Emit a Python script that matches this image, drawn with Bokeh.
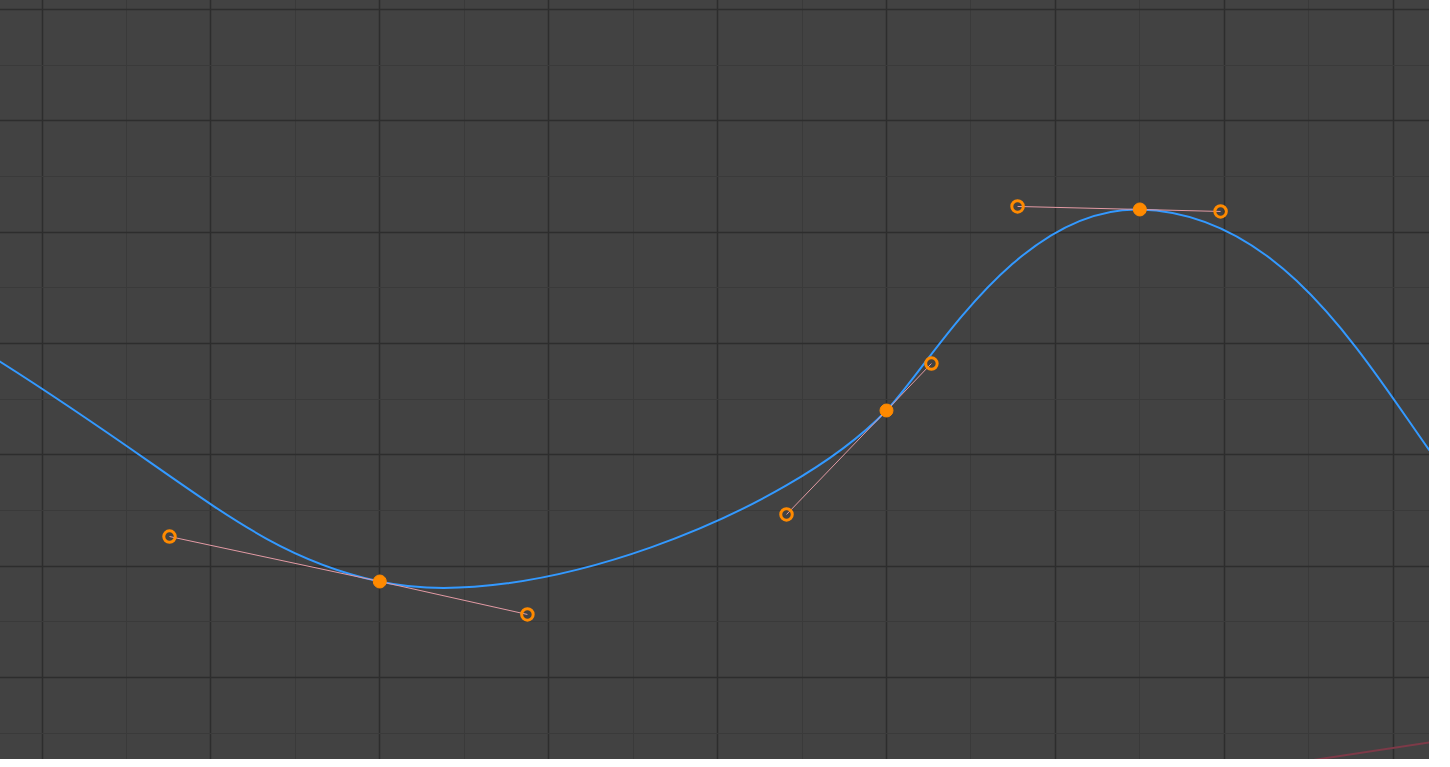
from bokeh.plotting import figure
from bokeh.models import Range1d, SingleIntervalTicker, Grid
from bokeh.embed import file_html
from bokeh.resources import INLINE

# keyframes (frame, value)
key_frames = [20.0, 50.0, 65.0]
key_values = [-2.138, -0.602, 1.204]
left_handle_frames = [7.55, 44.08, 57.76]
left_handle_values = [-1.734, -1.536, 1.231]
right_handle_frames = [28.74, 52.66, 69.78]
right_handle_values = [-2.434, -0.180, 1.186]

# visible parts of the segments that come from / go to keys outside the view
lead_in_frames = [-2.69, 9.15, 12.52]   # start, ctrl1, ctrl2 (ends at first key)
lead_in_values = [-0.144, -1.275, -1.895]
lead_out_frames = [73.13, 77.89, 82.15]  # ctrl1, ctrl2, end (starts at last key)
lead_out_values = [1.173, -0.045, -0.961]

# second (red) channel, barely visible at the bottom right
red_frames = [74.04, 82.15]
red_values = [-3.770, -3.584]

BG = "#424242"
p = figure(width=1433, height=765, output_backend="svg", toolbar_location=None,
           x_axis_location=None, y_axis_location=None,
           x_range=Range1d(-2.694, 82.15), y_range=Range1d(-3.737, 3.135),
           background_fill_color=BG, border_fill_color=BG, outline_line_color=None,
           min_border=0, margin=(-6, 0, -8, -4))
p.xgrid.visible = False
p.ygrid.visible = False
for dim, iv in ((0, 10), (1, 1)):
    g = Grid(dimension=dim, ticker=SingleIntervalTicker(interval=iv, num_minor_ticks=2),
             grid_line_color="#2d2d2d", grid_line_width=1.5,
             minor_grid_line_color="#3a3a3a", minor_grid_line_width=1)
    p.add_layout(g)

# curve segments
x0 = [lead_in_frames[0]] + key_frames
y0 = [lead_in_values[0]] + key_values
cx0 = [lead_in_frames[1]] + right_handle_frames[:-1] + [lead_out_frames[0]]
cy0 = [lead_in_values[1]] + right_handle_values[:-1] + [lead_out_values[0]]
cx1 = [lead_in_frames[2]] + left_handle_frames[1:] + [lead_out_frames[1]]
cy1 = [lead_in_values[2]] + left_handle_values[1:] + [lead_out_values[1]]
x1 = key_frames + [lead_out_frames[2]]
y1 = key_values + [lead_out_values[2]]

p.line(red_frames, red_values, line_color="#7d3a48", line_width=2)

p.bezier(x0=x0, y0=y0, x1=x1, y1=y1, cx0=cx0, cy0=cy0, cx1=cx1, cy1=cy1,
         line_color="#3399ff", line_width=2)

# handle lines
hx = [[l, k, r] for l, k, r in zip(left_handle_frames, key_frames, right_handle_frames)]
hy = [[l, k, r] for l, k, r in zip(left_handle_values, key_values, right_handle_values)]
p.multi_line(hx, hy, line_color="#e39aa4", line_width=1)

p.scatter(left_handle_frames + right_handle_frames, left_handle_values + right_handle_values,
          size=11.5, fill_color=None, line_color="#ff8a00", line_width=3)
p.scatter(key_frames, key_values, size=13, fill_color="#ff8a00", line_color="#ff8a00")

open("out.html", "w").write(file_html(p, INLINE))
